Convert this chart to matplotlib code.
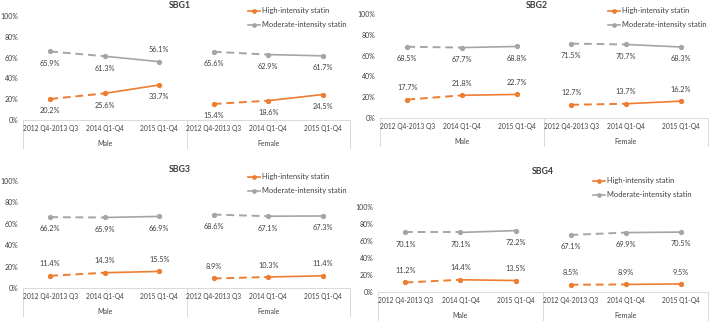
import matplotlib
matplotlib.use("Agg")
import matplotlib.pyplot as plt
from matplotlib.lines import Line2D

plt.rcParams['font.family'] = ['Lato', 'DejaVu Sans']

periods = ['2012 Q4-2013 Q3', '2014 Q1-Q4', '2015 Q1-Q4']
groups = ['Male', 'Female']
titles = ['SBG1', 'SBG2', 'SBG3', 'SBG4']
series_names = ['High-intensity statin', 'Moderate-intensity statin']

# high-intensity (male + female), moderate-intensity (male + female), in %
sbg1_high = [20.2, 25.6, 33.7, 15.4, 18.6, 24.5]
sbg1_mod = [65.9, 61.3, 56.1, 65.6, 62.9, 61.7]
sbg2_high = [17.7, 21.8, 22.7, 12.7, 13.7, 16.2]
sbg2_mod = [68.5, 67.7, 68.8, 71.5, 70.7, 68.3]
sbg3_high = [11.4, 14.3, 15.5, 8.9, 10.3, 11.4]
sbg3_mod = [66.2, 65.9, 66.9, 68.6, 67.1, 67.3]
sbg4_high = [11.2, 14.4, 13.5, 8.5, 8.9, 9.5]
sbg4_mod = [70.1, 70.1, 72.2, 67.1, 69.9, 70.5]

ORANGE = '#ED7D31'
GRAY = '#A5A5A5'
TXT = '#404040'
W, H = 709, 322

fig = plt.figure(figsize=(W / 100, H / 100), dpi=100)

# pixel layout per panel: x0, x1, y(100%), y(0%), box bottom, title xy, legend xy
layout = [
    dict(x0=23, x1=350, ytop=16, ybot=120, box=148, title=(180, 6), leg=(248, 11)),
    dict(x0=380, x1=708, ytop=14, ybot=118, box=146, title=(537, 6), leg=(608, 11)),
    dict(x0=23, x1=350, ytop=181, ybot=288, box=316, title=(180, 169), leg=(248, 177)),
    dict(x0=378, x1=708, ytop=207, ybot=292, box=320, title=(543, 172), leg=(593, 181)),
]
data = [(sbg1_high, sbg1_mod), (sbg2_high, sbg2_mod),
        (sbg3_high, sbg3_mod), (sbg4_high, sbg4_mod)]


def fx(px):
    return px / W


def fy(py):
    return 1 - py / H


for i, (lay, (high, mod)) in enumerate(zip(layout, data)):
    ax = fig.add_axes([fx(lay['x0']), fy(lay['ybot']),
                       (lay['x1'] - lay['x0']) / W, (lay['ybot'] - lay['ytop']) / H])
    ax.set_xlim(0, 6)
    ax.set_ylim(0, 100)
    for s in ax.spines.values():
        s.set_visible(False)
    ax.set_xticks([])
    ax.set_yticks(range(0, 101, 20))
    ax.set_yticklabels([f'{v}%' for v in range(0, 101, 20)], fontsize=5, color=TXT)
    ax.tick_params(axis='y', length=0, pad=3.5)
    ax.patch.set_alpha(0)

    for vals, col in ((high, ORANGE), (mod, GRAY)):
        for g in range(2):
            xs = [g * 3 + k + 0.5 for k in range(3)]
            ys = vals[g * 3:g * 3 + 3]
            ax.plot(xs[:2], ys[:2], color=col, lw=1.4, ls=(0, (4, 2.5)))
            ax.plot(xs[1:], ys[1:], color=col, lw=1.2)
            ax.plot(xs, ys, 'o', color=col, ms=2.8)
            for k in range(3):
                if col == GRAY:
                    above = (i == 0 and g == 0 and k == 2)
                else:
                    above = i != 0
                off = 6 if above else -6
                ax.annotate(f'{ys[k]:.1f}%', (xs[k], ys[k]), xytext=(0, off),
                            textcoords='offset points', ha='center',
                            va='bottom' if above else 'top', fontsize=5.3, color=TXT)

    # multi-level category axis
    hpx = lay['ybot'] - lay['ytop']
    depth = -(lay['box'] - lay['ybot']) / hpx
    ax.plot([0, 1], [0, 0], transform=ax.transAxes, color='#D9D9D9', lw=0.7, clip_on=False)
    for xv in (0, 0.5, 1):
        ax.plot([xv, xv], [0, depth], transform=ax.transAxes, color='#D9D9D9',
                lw=0.7, clip_on=False)
    for k in range(6):
        ax.text((k + 0.5) / 6, -9 / hpx, periods[k % 3], transform=ax.transAxes,
                ha='center', va='center', fontsize=4.8, color=TXT)
    for g in range(2):
        ax.text(0.25 + 0.5 * g, -24 / hpx, groups[g], transform=ax.transAxes,
                ha='center', va='center', fontsize=5, color=TXT)

    tx, ty = lay['title']
    fig.text(fx(tx), fy(ty), titles[i], ha='center', va='center', fontsize=6.3,
             fontweight='bold', color=TXT)

    lx, ly = lay['leg']
    for j, (name, col) in enumerate(zip(series_names, (ORANGE, GRAY))):
        yy = fy(ly + 14 * j)
        fig.add_artist(Line2D([fx(lx), fx(lx + 12)], [yy, yy], color=col, lw=1.2,
                              transform=fig.transFigure))
        fig.add_artist(Line2D([fx(lx + 6)], [yy], color=col, marker='o', ms=2.4,
                              transform=fig.transFigure))
        fig.text(fx(lx + 14), yy, name, ha='left', va='center', fontsize=5.4, color=TXT)

fig.savefig('out.png', dpi=100)
